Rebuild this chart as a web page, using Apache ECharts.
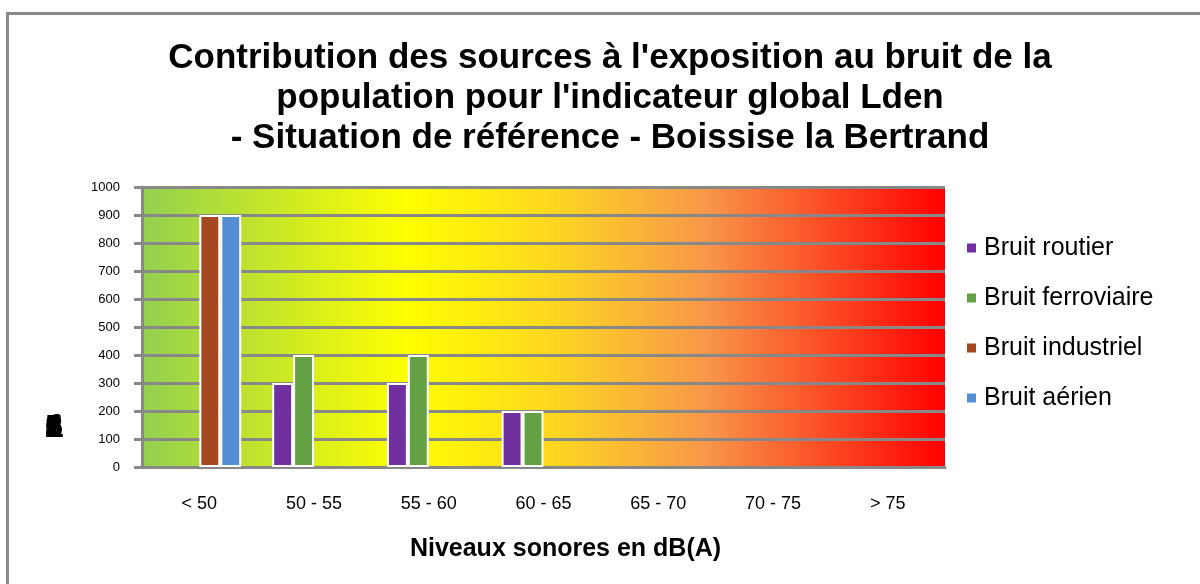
<!DOCTYPE html>
<html>
<head>
<meta charset="utf-8">
<script src="https://cdn.jsdelivr.net/npm/echarts@6/dist/echarts.min.js"></script>
<style>html,body{margin:0;padding:0;background:#fff}#c{width:1200px;height:584px}</style>
</head>
<body>
<div id="c"></div>
<script>
const categories = ['< 50', '50 - 55', '55 - 60', '60 - 65', '65 - 70', '70 - 75', '> 75'];
const routier = [0, 300, 300, 200, 0, 0, 0];
const ferroviaire = [0, 400, 400, 200, 0, 0, 0];
const industriel = [900, 0, 0, 0, 0, 0, 0];
const aerien = [900, 0, 0, 0, 0, 0, 0];
const seriesNames = ['Bruit routier', 'Bruit ferroviaire', 'Bruit industriel', 'Bruit aérien'];
const seriesColors = ['#7030a0', '#64a044', '#a34820', '#558ed5'];
const titleText = "Contribution des sources à l'exposition au bruit de la\npopulation pour l'indicateur global Lden\n- Situation de référence - Boissise la Bertrand";

const FONT = '"Liberation Sans", Arial, sans-serif';
const chart = echarts.init(document.getElementById('c'));
const toData = arr => arr.map(v => (v === 0 ? '-' : v));
const allSeries = [routier, ferroviaire, industriel, aerien].map((arr, i) => ({
  name: seriesNames[i],
  type: 'bar',
  data: toData(arr),
  barGap: '0%',
  barCategoryGap: '27%',
  itemStyle: { color: seriesColors[i], borderColor: '#ffffff', borderWidth: 2 },
  emphasis: { disabled: true },
  z: 3
}));

const blobChars = ['2', '5', 'a', '6', 'f'];
chart.setOption({
  animation: false,
  textStyle: { fontFamily: FONT },
  grid: {
    left: 142, right: 255, top: 187, bottom: 117,
    show: true, borderWidth: 0,
    backgroundColor: {
      type: 'linear', x: 0, y: 0, x2: 1, y2: 0,
      colorStops: [
        { offset: 0, color: '#92d050' },
        { offset: 0.33, color: '#ffff00' },
        { offset: 0.52, color: '#fdd522' },
        { offset: 0.7, color: '#f7984a' },
        { offset: 0.84, color: '#fb5228' },
        { offset: 1, color: '#ff0000' }
      ]
    }
  },
  legend: {
    orient: 'vertical',
    left: 960, top: 230,
    itemWidth: 11, itemHeight: 11, itemGap: 24,
    icon: 'rect',
    data: seriesNames,
    textStyle: { fontSize: 25, color: '#000', fontFamily: FONT, lineHeight: 26, padding: [0, 0, 0, 2] }
  },
  xAxis: {
    type: 'category',
    data: categories,
    name: 'Niveaux sonores en dB(A)',
    nameLocation: 'middle',
    nameGap: 70,
    nameTextStyle: { fontSize: 25, fontWeight: 'bold', color: '#000', fontFamily: FONT, padding: [0, 0, 0, 44] },
    axisLine: { lineStyle: { color: '#888888', width: 3 } },
    axisTick: { show: false },
    axisLabel: { fontSize: 18, color: '#000', margin: 28, fontFamily: FONT },
    splitLine: { show: false }
  },
  yAxis: {
    type: 'value',
    min: 0, max: 1000, interval: 100,
    axisLine: { show: true, lineStyle: { color: '#888888', width: 3 } },
    axisTick: { show: true, inside: false, length: 8, lineStyle: { color: '#888888', width: 3 } },
    axisLabel: { fontSize: 13, color: '#000', margin: 22, fontFamily: FONT, formatter: v => String(v) },
    splitLine: { show: true, lineStyle: { color: '#888888', width: 3 } }
  },
  graphic: [
    {
      type: 'rect', silent: true,
      shape: { x: 7.5, y: 13.5, width: 1300, height: 700 },
      style: { fill: 'none', stroke: '#898989', lineWidth: 3 }
    },
    {
      type: 'text', silent: true, x: 610, y: 38,
      style: {
        text: titleText, fill: '#000', font: 'bold 35px ' + FONT,
        textAlign: 'center', textVerticalAlign: 'top', lineHeight: 40
      }
    },
    ...blobChars.map(ch => ({
      type: 'text', silent: true, x: 54, y: 428,
      style: { text: ch, fill: '#000', font: 'bold 32px ' + FONT, textAlign: 'center', textVerticalAlign: 'middle' }
    }))
  ],
  series: allSeries
});
</script>
</body>
</html>
